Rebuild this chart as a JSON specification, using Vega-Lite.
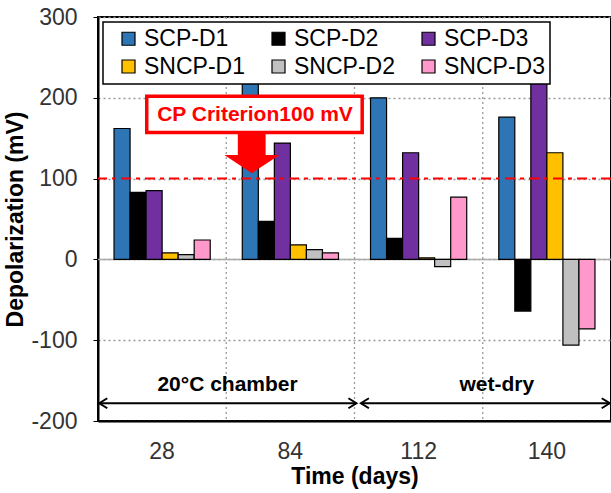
{
  "$schema": "https://vega.github.io/schema/vega-lite/v6.json",
  "width": 513,
  "height": 404,
  "autosize": {"type": "none"},
  "padding": {"left": 98, "top": 17, "right": 0, "bottom": 72},
  "background": "white",
  "config": {
    "font": "Liberation Sans",
    "view": {"stroke": "black", "strokeWidth": 2},
    "legend": {
      "orient": "top-left",
      "offset": 5,
      "columns": 3,
      "direction": "horizontal",
      "fillColor": "white",
      "strokeColor": "black",
      "strokeWidth": 1.5,
      "padding": 5,
      "symbolOffset": 9,
      "symbolSize": 169,
      "symbolType": "square",
      "symbolStrokeColor": "black",
      "symbolStrokeWidth": 1.2,
      "labelFont": "Liberation Sans",
      "labelFontSize": 23,
      "labelColor": "black",
      "labelOffset": 4,
      "columnPadding": 13,
      "rowPadding": 4,
      "zindex": 1
    }
  },
  "datasets": {
    "bars": [
      {"time": 28, "series": "SCP-D1", "value": 162},
      {"time": 28, "series": "SCP-D2", "value": 83},
      {"time": 28, "series": "SCP-D3", "value": 85},
      {"time": 28, "series": "SNCP-D1", "value": 8},
      {"time": 28, "series": "SNCP-D2", "value": 6},
      {"time": 28, "series": "SNCP-D3", "value": 24},
      {"time": 84, "series": "SCP-D1", "value": 235},
      {"time": 84, "series": "SCP-D2", "value": 47},
      {"time": 84, "series": "SCP-D3", "value": 144},
      {"time": 84, "series": "SNCP-D1", "value": 18},
      {"time": 84, "series": "SNCP-D2", "value": 12},
      {"time": 84, "series": "SNCP-D3", "value": 8},
      {"time": 112, "series": "SCP-D1", "value": 200},
      {"time": 112, "series": "SCP-D2", "value": 26},
      {"time": 112, "series": "SCP-D3", "value": 132},
      {"time": 112, "series": "SNCP-D1", "value": 2},
      {"time": 112, "series": "SNCP-D2", "value": -9},
      {"time": 112, "series": "SNCP-D3", "value": 77},
      {"time": 140, "series": "SCP-D1", "value": 176},
      {"time": 140, "series": "SCP-D2", "value": -64},
      {"time": 140, "series": "SCP-D3", "value": 235},
      {"time": 140, "series": "SNCP-D1", "value": 132},
      {"time": 140, "series": "SNCP-D2", "value": -106},
      {"time": 140, "series": "SNCP-D3", "value": -86}
    ]
  },
  "layer": [
    {
      "data": {"values": [{"pos": 1}, {"pos": 2}, {"pos": 3}]},
      "mark": {"type": "rule", "color": "#999999", "strokeDash": [2, 3], "strokeWidth": 1.3},
      "encoding": {
        "x": {"field": "pos", "type": "quantitative", "scale": {"domain": [0, 4], "nice": false, "zero": false}, "axis": null}
      }
    },
    {
      "data": {"values": [{"v": 0}]},
      "mark": {"type": "rule", "color": "#aaaaaa", "strokeWidth": 1.5},
      "encoding": {"y": {"field": "v", "type": "quantitative"}}
    },
    {
      "data": {"name": "bars"},
      "mark": {"type": "bar", "stroke": "black", "strokeWidth": 1.2},
      "encoding": {
        "x": {
          "field": "time",
          "type": "ordinal",
          "scale": {"paddingInner": 0, "paddingOuter": 0},
          "axis": {
            "title": "Time (days)",
            "labelAngle": 0,
            "labelFontSize": 23,
            "labelColor": "#333333",
            "labelPadding": 19,
            "ticks": false,
            "tickSize": 0,
            "domainColor": "black",
            "domainWidth": 2,
            "grid": false,
            "titleFontSize": 23,
            "titleFontWeight": "bold",
            "titleColor": "black",
            "titlePadding": 2
          }
        },
        "xOffset": {
          "field": "series",
          "type": "nominal",
          "sort": ["SCP-D1", "SCP-D2", "SCP-D3", "SNCP-D1", "SNCP-D2", "SNCP-D3"],
          "scale": {"paddingInner": 0, "paddingOuter": 1.3}
        },
        "y": {
          "field": "value",
          "type": "quantitative",
          "scale": {"domain": [-200, 300], "nice": false},
          "axis": {
            "title": "Depolarization (mV)",
            "values": [-200, -100, 0, 100, 200, 300],
            "labelExpr": "datum.value < 0 ? '-' + abs(datum.value) : '' + datum.value",
            "labelFontSize": 23,
            "labelColor": "#333333",
            "labelPadding": 16,
            "tickSize": 5,
            "tickColor": "black",
            "domainColor": "black",
            "domainWidth": 2,
            "grid": true,
            "gridColor": "#999999",
            "gridDash": [2, 3],
            "gridWidth": 1.3,
            "titleFontSize": 23,
            "titleFontWeight": "bold",
            "titleColor": "black",
            "titlePadding": 3
          }
        },
        "color": {
          "field": "series",
          "type": "nominal",
          "scale": {
            "domain": ["SCP-D1", "SCP-D2", "SCP-D3", "SNCP-D1", "SNCP-D2", "SNCP-D3"],
            "range": ["#2E75B6", "#000000", "#7030A0", "#FFC000", "#C0C0C0", "#FF99CC"]
          },
          "legend": {"title": null}
        }
      }
    },
    {
      "data": {"values": [{"v": 100}]},
      "mark": {"type": "rule", "color": "#ff0000", "strokeDash": [10, 5, 4, 5], "strokeWidth": 2},
      "encoding": {"y": {"field": "v", "type": "quantitative"}}
    },
    {
      "data": {"values": [{"a": 0.38, "b": 2.06, "lo": 157, "hi": 202}]},
      "mark": {"type": "rect", "fill": "white", "stroke": "#ff0000", "strokeWidth": 3.5},
      "encoding": {
        "x": {"field": "a", "type": "quantitative", "scale": {"domain": [0, 4], "nice": false, "zero": false}, "axis": null},
        "x2": {"field": "b"},
        "y": {"field": "lo", "type": "quantitative"},
        "y2": {"field": "hi"}
      }
    },
    {
      "data": {"values": [{"p": 1.224, "v": 179, "t": "CP Criterion100 mV"}]},
      "mark": {"type": "text", "color": "#ff0000", "fontSize": 21, "fontWeight": "bold", "align": "center", "baseline": "middle"},
      "encoding": {
        "x": {"field": "p", "type": "quantitative", "scale": {"domain": [0, 4], "nice": false, "zero": false}, "axis": null},
        "y": {"field": "v", "type": "quantitative"},
        "text": {"field": "t"}
      }
    },
    {
      "data": {"values": [{"a": 1.09, "b": 1.307, "lo": 127, "hi": 157}]},
      "mark": {"type": "rect", "fill": "#ff0000"},
      "encoding": {
        "x": {"field": "a", "type": "quantitative", "scale": {"domain": [0, 4], "nice": false, "zero": false}, "axis": null},
        "x2": {"field": "b"},
        "y": {"field": "lo", "type": "quantitative"},
        "y2": {"field": "hi"}
      }
    },
    {
      "data": {"values": [{"p": 1.2, "v": 118}]},
      "mark": {"type": "point", "shape": "M-1,-0.33L1,-0.33L0,0.33Z", "size": 3025, "filled": true, "color": "#ff0000", "opacity": 1},
      "encoding": {
        "x": {"field": "p", "type": "quantitative", "scale": {"domain": [0, 4], "nice": false, "zero": false}, "axis": null},
        "y": {"field": "v", "type": "quantitative"}
      }
    },
    {
      "data": {"values": [{"a": 0.01, "b": 2.015, "v": -178}, {"a": 2.05, "b": 3.99, "v": -178}]},
      "mark": {"type": "rule", "color": "black", "strokeWidth": 2},
      "encoding": {
        "x": {"field": "a", "type": "quantitative", "scale": {"domain": [0, 4], "nice": false, "zero": false}, "axis": null},
        "x2": {"field": "b"},
        "y": {"field": "v", "type": "quantitative"}
      }
    },
    {
      "data": {"values": [{"p": 0.01, "v": -178}, {"p": 2.05, "v": -178}]},
      "mark": {"type": "point", "shape": "M1.6,-1L0,0L1.6,1", "size": 100, "filled": false, "color": "black", "strokeWidth": 2, "opacity": 1},
      "encoding": {
        "x": {"field": "p", "type": "quantitative", "scale": {"domain": [0, 4], "nice": false, "zero": false}, "axis": null},
        "y": {"field": "v", "type": "quantitative"}
      }
    },
    {
      "data": {"values": [{"p": 2.015, "v": -178}, {"p": 3.99, "v": -178}]},
      "mark": {"type": "point", "shape": "M-1.6,-1L0,0L-1.6,1", "size": 100, "filled": false, "color": "black", "strokeWidth": 2, "opacity": 1},
      "encoding": {
        "x": {"field": "p", "type": "quantitative", "scale": {"domain": [0, 4], "nice": false, "zero": false}, "axis": null},
        "y": {"field": "v", "type": "quantitative"}
      }
    },
    {
      "data": {"values": [{"p": 1.01, "v": -156, "t": "20°C chamber"}, {"p": 3.11, "v": -156, "t": "wet-dry"}]},
      "mark": {"type": "text", "color": "black", "fontSize": 21, "fontWeight": "bold", "align": "center", "baseline": "middle"},
      "encoding": {
        "x": {"field": "p", "type": "quantitative", "scale": {"domain": [0, 4], "nice": false, "zero": false}, "axis": null},
        "y": {"field": "v", "type": "quantitative"},
        "text": {"field": "t"}
      }
    }
  ],
  "resolve": {"scale": {"x": "independent"}}
}
